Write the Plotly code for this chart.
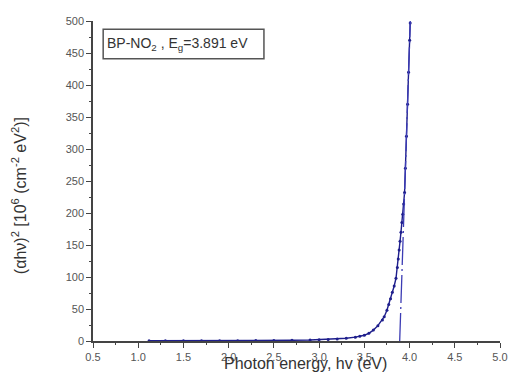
import plotly.graph_objects as go

# Tauc plot data: photon energy (eV) vs (alpha*h*nu)^2 [10^6 cm^-2 eV^2]
energy = [1.12, 1.3, 1.5, 1.7, 1.9, 2.1, 2.3, 2.5, 2.7, 2.9, 3.0, 3.1, 3.2, 3.3,
          3.4, 3.45, 3.5, 3.55, 3.6, 3.65, 3.7, 3.72, 3.75, 3.77, 3.79, 3.81,
          3.83, 3.85, 3.865, 3.875, 3.885, 3.895, 3.905, 3.915, 3.925, 3.935,
          3.945, 3.954, 3.966, 3.978, 3.989, 4.001, 4.007]
alpha_hv_sq = [0.3, 0.3, 0.4, 0.4, 0.5, 0.5, 0.6, 0.8, 1.2, 1.6, 2.0, 2.5, 3.2, 4.2,
               6.0, 7.5, 9.0, 12.0, 17.0, 24.0, 33.0, 38.0, 48.0, 57.0, 66.0, 76.0,
               86.0, 98.0, 115.0, 128.0, 142.0, 156.0, 170.0, 185.0, 198.0, 214.0,
               232.0, 270.0, 320.0, 370.0, 420.0, 470.0, 497.0]

# Linear extrapolation of the absorption edge to the energy axis
band_gap = 3.891
fit_x = [band_gap, 4.008]
fit_y = [0, 500]

x_ticks = [0.5, 1.0, 1.5, 2.0, 2.5, 3.0, 3.5, 4.0, 4.5, 5.0]
y_ticks = [0, 50, 100, 150, 200, 250, 300, 350, 400, 450, 500]

fig = go.Figure()
fig.add_trace(go.Scatter(
    x=energy, y=alpha_hv_sq, mode="lines+markers",
    line=dict(color="#1e1e8c", width=1.4),
    marker=dict(color="#1e1e8c", size=3),
    showlegend=False, hoverinfo="skip"))
fig.add_trace(go.Scatter(
    x=fit_x, y=fit_y, mode="lines",
    line=dict(color="#3c3cb4", width=1.3, dash="28px,4px,2px,4px"),
    showlegend=False, hoverinfo="skip"))

axis_common = dict(
    showgrid=False, zeroline=False, showline=True,
    linecolor="#444", linewidth=1.5,
    ticks="outside", ticklen=5, tickwidth=1.2, tickcolor="#444",
    tickfont=dict(family="Liberation Sans, Arial", size=11, color="#555"),
)

fig.update_xaxes(
    range=[0.5, 5.0], tickvals=x_ticks,
    ticktext=[f"{v:.1f}" for v in x_ticks],
    minor=dict(ticks="outside", ticklen=2, tickcolor="#444", dtick=0.25, tick0=0.5),
    **axis_common)
fig.update_yaxes(
    range=[0, 500], tickvals=y_ticks,
    minor=dict(ticks="outside", ticklen=2, tickcolor="#444", dtick=25, tick0=0),
    **axis_common)

fig.add_annotation(
    text="Photon energy, hv (eV)", xref="paper", yref="paper",
    x=0.521, y=-0.038, xanchor="center", yanchor="top", showarrow=False,
    font=dict(family="Liberation Sans, Arial", size=16, color="#333"))
fig.add_annotation(
    text="(αhν)<sup>2</sup> [10<sup>6</sup> (cm<sup>-2</sup> eV<sup>2</sup>)]",
    xref="paper", yref="paper", x=-0.18, y=0.455,
    xanchor="center", yanchor="middle", textangle=-90, showarrow=False,
    font=dict(family="Liberation Sans, Arial", size=16, color="#333"))

# Label box with band gap value
fig.add_shape(type="rect", xref="paper", yref="paper",
              x0=0.025, x1=0.42, y0=0.882, y1=0.974,
              line=dict(color="#555", width=1.5), fillcolor="white")
fig.add_annotation(
    text="BP-NO<sub>2</sub> , E<sub>g</sub>=3.891 eV",
    xref="paper", yref="paper", x=0.03, y=0.928,
    xanchor="left", yanchor="middle", showarrow=False,
    font=dict(family="Liberation Sans, Arial", size=14, color="#333"))

fig.update_layout(
    width=518, height=376,
    margin=dict(l=93, r=10, t=21, b=35),
    paper_bgcolor="white", plot_bgcolor="white",
)

fig.write_html("out.html")
